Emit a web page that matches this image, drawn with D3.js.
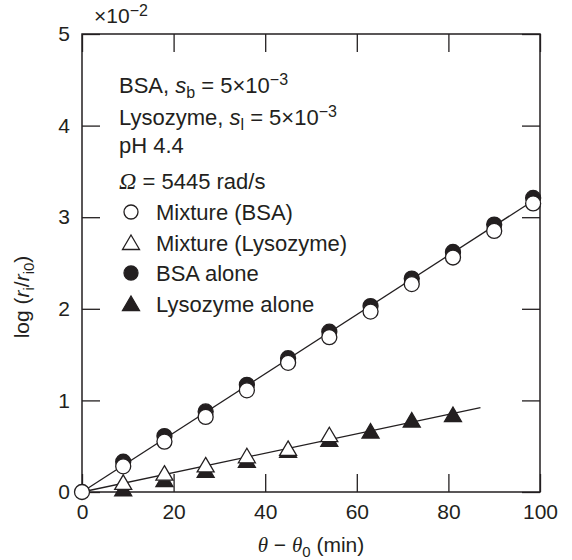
<!DOCTYPE html>
<html><head><meta charset="utf-8">
<script src="https://cdn.jsdelivr.net/npm/d3@7"></script>
<style>body{margin:0;background:#fff}svg text{font-family:"Liberation Sans",Arial,Helvetica,sans-serif;fill:#231f20}</style>
</head><body><div id="chart"></div>
<script>
const xTicks = [0, 20, 40, 60, 80, 100];
const yTicks = [0, 1, 2, 3, 4, 5];
const timesMixBSA = [0, 9, 18, 27, 36, 45, 54, 63, 72, 81, 90, 98.5];
const mixBSA      = [0, 0.28, 0.55, 0.82, 1.11, 1.41, 1.69, 1.97, 2.27, 2.56, 2.85, 3.15];
const timesBSA    = [9, 18, 27, 36, 45, 54, 63, 72, 81, 90, 98.5];
const bsaAlone    = [0.33, 0.61, 0.88, 1.17, 1.46, 1.75, 2.03, 2.33, 2.62, 2.92, 3.21];
const timesMixLys = [9, 18, 27, 36, 45, 54];
const mixLys      = [0.10, 0.20, 0.29, 0.39, 0.47, 0.62];
const timesLys    = [9, 18, 27, 36, 45, 54, 63, 72, 81];
const lysAlone    = [0.03, 0.13, 0.23, 0.34, 0.45, 0.57, 0.66, 0.78, 0.84];
const bsaFitX = [0, 98.5], bsaFitY = [0, 3.18];
const lysFitX = [0, 87],   lysFitY = [0, 0.92];

const W = 572, H = 560;
const m = {left: 82, right: 32, top: 34, bottom: 68};
const svg = d3.select("#chart").append("svg").attr("width", W).attr("height", H);
const x = d3.scaleLinear().domain([0, 100]).range([m.left, W - m.right]);
const y = d3.scaleLinear().domain([0, 5]).range([H - m.bottom, m.top]);
const ink = "#231f20";
const FS = 21, LFS = 22;

// axes (inward ticks on all sides)
const tl = 18;
svg.append("g").attr("transform", `translate(0,${y(0)})`)
  .call(d3.axisBottom(x).tickValues(xTicks).tickSizeInner(-tl).tickSizeOuter(0).tickPadding(8))
  .call(g => { g.select(".domain").remove(); g.selectAll("line").attr("stroke", ink).attr("stroke-width", 1.3);
    g.selectAll("text").attr("font-size", FS).attr("fill", ink).attr("dy", "0.9em"); });
svg.append("g").attr("transform", `translate(0,${y(5)})`)
  .call(d3.axisTop(x).tickValues(xTicks).tickSizeInner(-tl).tickSizeOuter(0).tickFormat(""))
  .call(g => { g.select(".domain").remove(); g.selectAll("line").attr("stroke", ink).attr("stroke-width", 1.3); });
svg.append("g").attr("transform", `translate(${x(0)},0)`)
  .call(d3.axisLeft(y).tickValues(yTicks).tickSizeInner(-tl).tickSizeOuter(0).tickPadding(12).tickFormat(d3.format("d")))
  .call(g => { g.select(".domain").remove(); g.selectAll("line").attr("stroke", ink).attr("stroke-width", 1.3);
    g.selectAll("text").attr("font-size", FS).attr("fill", ink); });
svg.append("g").attr("transform", `translate(${x(100)},0)`)
  .call(d3.axisRight(y).tickValues(yTicks).tickSizeInner(-tl).tickSizeOuter(0).tickFormat(""))
  .call(g => { g.select(".domain").remove(); g.selectAll("line").attr("stroke", ink).attr("stroke-width", 1.3); });
svg.append("rect").attr("x", x(0)).attr("y", y(5)).attr("width", x(100) - x(0)).attr("height", y(0) - y(5))
  .attr("fill", "none").attr("stroke", ink).attr("stroke-width", 1.5);

// fit lines
const line = d3.line().x(d => x(d[0])).y(d => y(d[1]));
svg.append("path").datum(d3.zip(bsaFitX, bsaFitY)).attr("d", line).attr("fill", "none").attr("stroke", ink).attr("stroke-width", 1.3);
svg.append("path").datum(d3.zip(lysFitX, lysFitY)).attr("d", line).attr("fill", "none").attr("stroke", ink).attr("stroke-width", 1.3);

const R = 7.5;
const tri = "M0,-8L8.5,6.5L-8.5,6.5Z";
function circles(xs, ys, fill) {
  svg.append("g").selectAll("circle").data(d3.zip(xs, ys)).join("circle")
    .attr("cx", d => x(d[0])).attr("cy", d => y(d[1])).attr("r", R)
    .attr("fill", fill).attr("stroke", ink).attr("stroke-width", 1.3);
}
function triangles(xs, ys, fill) {
  svg.append("g").selectAll("path").data(d3.zip(xs, ys)).join("path")
    .attr("transform", d => `translate(${x(d[0])},${y(d[1])})`).attr("d", tri)
    .attr("fill", fill).attr("stroke", ink).attr("stroke-width", 1.3);
}
circles(timesBSA, bsaAlone, ink);
triangles(timesLys, lysAlone, ink);
circles(timesMixBSA, mixBSA, "#fff");
triangles(timesMixLys, mixLys, "#fff");

// texts
const T = svg.append("g").attr("font-size", LFS);
T.append("text").attr("x", 94).attr("y", 23).attr("font-size", FS).html('×10<tspan dy="-7" font-size="16">−2</tspan>');
T.append("text").attr("x", 119).attr("y", 93).html('BSA, <tspan font-style="italic">s</tspan><tspan dy="5" font-size="16">b</tspan><tspan dy="-5"> = 5×10</tspan><tspan dy="-8" font-size="16">−3</tspan>');
T.append("text").attr("x", 119).attr("y", 125).html('Lysozyme, <tspan font-style="italic">s</tspan><tspan dy="5" font-size="16">l</tspan><tspan dy="-5"> = 5×10</tspan><tspan dy="-8" font-size="16">−3</tspan>');
T.append("text").attr("x", 119).attr("y", 153).text("pH 4.4");
T.append("text").attr("x", 119).attr("y", 189).html('<tspan font-family="Liberation Serif, serif" font-style="italic" font-size="24">Ω</tspan> = 5445 rad/s');

const legend = [
  {label: "Mixture (BSA)", shape: "c", fill: "#fff", cy: 212},
  {label: "Mixture (Lysozyme)", shape: "t", fill: "#fff", cy: 243},
  {label: "BSA alone", shape: "c", fill: ink, cy: 273},
  {label: "Lysozyme alone", shape: "t", fill: ink, cy: 304}
];
legend.forEach(d => {
  if (d.shape === "c") svg.append("circle").attr("cx", 131).attr("cy", d.cy).attr("r", 7).attr("fill", d.fill).attr("stroke", ink).attr("stroke-width", 1.3);
  else svg.append("path").attr("transform", `translate(131,${d.cy})`).attr("d", tri).attr("fill", d.fill).attr("stroke", ink).attr("stroke-width", 1.3);
  T.append("text").attr("x", 156).attr("y", d.cy + 8).text(d.label);
});

// axis titles
T.append("text").attr("x", x(50)).attr("y", 552).attr("text-anchor", "middle").attr("font-size", FS)
  .html('<tspan font-family="Liberation Serif, serif" font-style="italic">θ</tspan> − <tspan font-family="Liberation Serif, serif" font-style="italic">θ</tspan><tspan dy="5" font-size="15">0</tspan><tspan dy="-5"> (min)</tspan>');
T.append("text").attr("transform", "translate(29,297) rotate(-90)").attr("text-anchor", "middle").attr("font-size", FS)
  .html('log (<tspan font-style="italic">r</tspan><tspan dy="5" font-size="15">i</tspan><tspan dy="-5">/</tspan><tspan font-style="italic">r</tspan><tspan dy="5" font-size="15">i0</tspan><tspan dy="-5">)</tspan>');
</script></body></html>
